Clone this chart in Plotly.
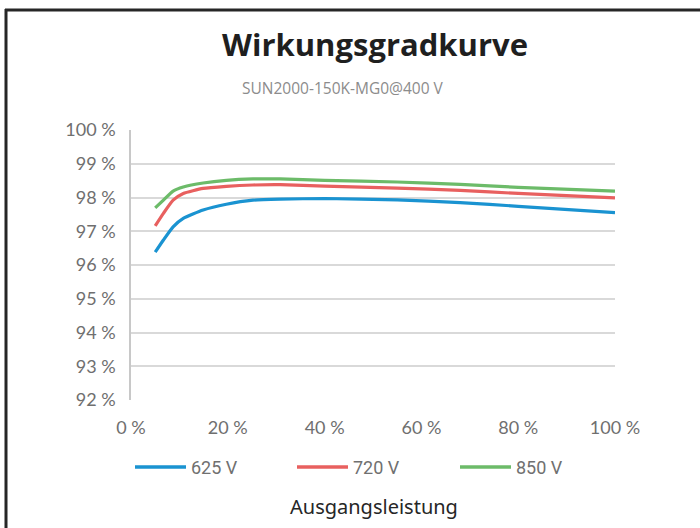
import plotly.graph_objects as go

# ---- data ----
load_pct = [5, 6.7, 8.7, 10.8, 14.9, 19.7, 25.2, 30.8, 40, 55, 68, 80, 100]
eff_625 = [96.38, 96.74, 97.13, 97.38, 97.63, 97.80, 97.92, 97.95, 97.97, 97.93, 97.85, 97.74, 97.55]
eff_720 = [97.16, 97.53, 97.92, 98.12, 98.27, 98.33, 98.37, 98.38, 98.34, 98.28, 98.21, 98.12, 97.99]
eff_850 = [97.69, 97.92, 98.19, 98.31, 98.43, 98.51, 98.55, 98.55, 98.51, 98.46, 98.39, 98.30, 98.19]
series_names = ["625 V", "720 V", "850 V"]
series_colors = ["#1a93d1", "#e8605f", "#6cbb69"]
x_ticks = [0, 20, 40, 60, 80, 100]
y_ticks = [92, 93, 94, 95, 96, 97, 98, 99, 100]

title_text = "Wirkungsgradkurve"
subtitle_text = "SUN2000-150K-MG0@400 V"
x_title = "Ausgangsleistung"

W, H = 700, 528
ML, MR, MT, MB = 131, 85, 130, 128
PW, PH = W - ML - MR, H - MT - MB


def px(x):
    return (x - ML) / PW


def py(y):
    return (H - MB - y) / PH


fig = go.Figure()
for name, vals, col in zip(series_names, [eff_625, eff_720, eff_850], series_colors):
    fig.add_trace(go.Scatter(x=load_pct, y=vals, mode="lines", name=name,
                             line=dict(color=col, width=3.2, shape="spline", smoothing=0.5),
                             showlegend=False))

tick_font = dict(family="Lato, Open Sans, sans-serif", size=18, color="#6f6f6f")
fig.update_layout(
    width=W, height=H, margin=dict(l=ML, r=MR, t=MT, b=MB),
    paper_bgcolor="white", plot_bgcolor="white",
    xaxis=dict(range=[0, 100], tickvals=x_ticks, ticktext=[f"{v} %" for v in x_ticks],
               showgrid=False, zeroline=False, showline=False, tickfont=tick_font,
               ticks="", ticklabelstandoff=15),
    yaxis=dict(range=[92, 100], tickvals=y_ticks, ticktext=[f"{v} %" for v in y_ticks],
               showgrid=True, gridcolor="#d9d9d9", gridwidth=1.5, zeroline=False,
               showline=True, linecolor="#c8c8c8", linewidth=1.5, tickfont=tick_font,
               ticks="", ticklabelstandoff=10),
)

annotations = [
    dict(text=f"<b>{title_text}</b>", x=px(375), y=py(44), xref="paper", yref="paper",
         showarrow=False, xanchor="center", yanchor="middle",
         font=dict(family="Open Sans, sans-serif", size=31, color="#1f1f1f")),
    dict(text=subtitle_text, x=px(343), y=py(88), xref="paper", yref="paper",
         showarrow=False, xanchor="center", yanchor="middle",
         font=dict(family="Open Sans, sans-serif", size=15.5, color="#8c8c8c")),
    dict(text=x_title, x=px(374), y=py(506), xref="paper", yref="paper",
         showarrow=False, xanchor="center", yanchor="middle",
         font=dict(family="Noto Sans, sans-serif", size=20, color="#262626")),
]

shapes = [
    dict(type="line", xref="paper", yref="paper", x0=px(6), x1=px(6), y0=py(9), y1=py(540),
         line=dict(color="#262626", width=3)),
    dict(type="line", xref="paper", yref="paper", x0=px(5), x1=px(710), y0=py(10), y1=py(10),
         line=dict(color="#262626", width=3)),
]

legend_x = [135, 297, 460]
legend_y = 467
for lx, name, col in zip(legend_x, series_names, series_colors):
    shapes.append(dict(type="line", xref="paper", yref="paper", x0=px(lx), x1=px(lx + 51),
                       y0=py(legend_y), y1=py(legend_y), line=dict(color=col, width=3.5)))
    annotations.append(dict(text=name, x=px(lx + 54), y=py(legend_y), xref="paper", yref="paper",
                            showarrow=False, xanchor="left", yanchor="middle",
                            font=dict(family="Roboto, sans-serif", size=18, color="#707070")))

fig.update_layout(annotations=annotations, shapes=shapes)
fig.write_html("out.html", config={"displayModeBar": False},
               post_script="document.body.style.margin='0px';")
